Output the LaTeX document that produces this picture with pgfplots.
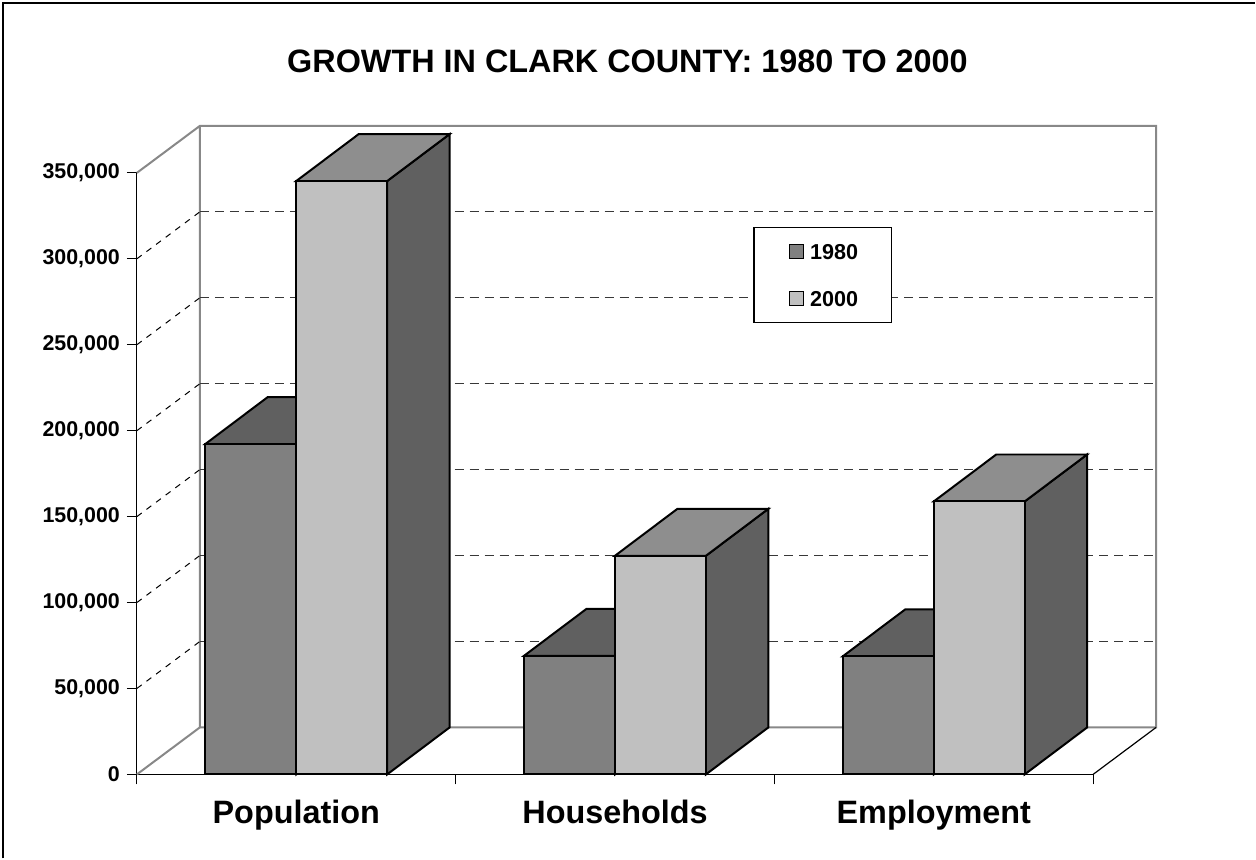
\documentclass[border=0pt]{standalone}
\usepackage{pgfplots}
\pgfplotsset{compat=1.18}
\usepackage{fontspec}
\setmainfont{Liberation Sans}
\definecolor{fA}{HTML}{808080}
\definecolor{tA}{HTML}{606060}
\definecolor{sA}{HTML}{505050}
\definecolor{fB}{HTML}{C0C0C0}
\definecolor{tB}{HTML}{8E8E8E}
\definecolor{sB}{HTML}{606060}
\definecolor{wall}{HTML}{888888}
\definecolor{gridc}{HTML}{383838}
\pgfplotsset{boxface/.style={forget plot, draw=black, line width=1pt, line join=miter}}
% one 3D column: #1 left x, #2 right x, #3 value, #4 front, #5 top, #6 side colour
\newcommand{\drawbox}[6]{%
  \pgfmathsetmacro{\xa}{#1+62.5}%
  \pgfmathsetmacro{\xb}{#2+62.5}%
  \edef\vt{\the\numexpr#3+27326\relax}%
  \addplot[boxface, fill=#6] coordinates {(#2,0) (\xb,27326) (\xb,\vt) (#2,#3)} -- cycle;
  \addplot[boxface, fill=#5] coordinates {(#1,#3) (#2,#3) (\xb,\vt) (\xa,\vt)} -- cycle;
  \addplot[boxface, fill=#4] coordinates {(#1,0) (#2,0) (#2,#3) (#1,#3)} -- cycle;
}
\begin{document}
\begin{tikzpicture}
\begin{axis}[
  scale only axis, width=478.5pt, height=301pt,
  xmin=137, xmax=1094, ymin=0, ymax=350000,
  clip=false,
  axis x line*=bottom, axis y line*=left,
  axis line style={black, line width=0.6pt},
  xtick={137,456,775,1094}, xticklabels={},
  ytick={0,50000,100000,150000,200000,250000,300000,350000},
  yticklabels={0,{50,000},{100,000},{150,000},{200,000},{250,000},{300,000},{350,000}},
  scaled y ticks=false,
  tick align=outside, major tick length=5pt,
  tick style={black, line width=0.6pt},
  yticklabel style={font=\bfseries\fontsize{10.7}{12}\selectfont},
  legend cell align=left,
  legend image code/.code={\path (0pt,0pt) (11pt,0pt); \draw[#1, draw=black, line width=0.5pt] (2.5pt,-3.5pt) rectangle (9.5pt,3.5pt);},
  legend style={at={(axis cs:754,318605)}, anchor=north west, draw=black, line width=0.6pt, fill=white,
    inner xsep=15pt, inner ysep=8.1pt, row sep=15.7pt,
    font=\bfseries\fontsize{10.8}{12}\selectfont,
    nodes={inner xsep=1.5pt, inner ysep=0pt, text height=7.8pt, text depth=0pt}},
]
% bounding box and outer frame
\path (axis cs:0,450581) rectangle (axis cs:1256,-48837);
\draw[black, line width=1pt] (axis cs:3,-48837) -- (axis cs:3,448837) -- (axis cs:1256,448837);

\addlegendimage{fill=fA}\addlegendentry{1980}
\addlegendimage{fill=fB}\addlegendentry{2000}

% walls and floor
\addplot[forget plot, wall, line width=1pt] coordinates {(137,350000) (200,377326) (1157,377326) (1157,27326) (200,27326) (200,377326)};
\addplot[forget plot, wall, line width=1pt] coordinates {(137,0) (200,27326)};
\addplot[forget plot, black, line width=0.6pt] coordinates {(1094,0) (1157,27326)};
% back-wall grid lines
\addplot[forget plot, gridc, line width=0.65pt, dash pattern=on 4.5pt off 3pt] coordinates {(200,77326) (1157,77326)};
\addplot[forget plot, gridc, line width=0.65pt, dash pattern=on 4.5pt off 3pt] coordinates {(200,127326) (1157,127326)};
\addplot[forget plot, gridc, line width=0.65pt, dash pattern=on 4.5pt off 3pt] coordinates {(200,177326) (1157,177326)};
\addplot[forget plot, gridc, line width=0.65pt, dash pattern=on 4.5pt off 3pt] coordinates {(200,227326) (1157,227326)};
\addplot[forget plot, gridc, line width=0.65pt, dash pattern=on 4.5pt off 3pt] coordinates {(200,277326) (1157,277326)};
\addplot[forget plot, gridc, line width=0.65pt, dash pattern=on 4.5pt off 3pt] coordinates {(200,327326) (1157,327326)};
% side-wall grid lines
\addplot[forget plot, black, line width=0.5pt, dash pattern=on 3pt off 3pt] coordinates {(137,50000) (200,77326)};
\addplot[forget plot, black, line width=0.5pt, dash pattern=on 3pt off 3pt] coordinates {(137,100000) (200,127326)};
\addplot[forget plot, black, line width=0.5pt, dash pattern=on 3pt off 3pt] coordinates {(137,150000) (200,177326)};
\addplot[forget plot, black, line width=0.5pt, dash pattern=on 3pt off 3pt] coordinates {(137,200000) (200,227326)};
\addplot[forget plot, black, line width=0.5pt, dash pattern=on 3pt off 3pt] coordinates {(137,250000) (200,277326)};
\addplot[forget plot, black, line width=0.5pt, dash pattern=on 3pt off 3pt] coordinates {(137,300000) (200,327326)};

% columns: Population, Households, Employment (1980, 2000)
\drawbox{205.5}{296.5}{192227}{fA}{tA}{sA}
\drawbox{296.5}{387.5}{345238}{fB}{tB}{sB}
\drawbox{524.5}{615.5}{69000}{fA}{tA}{sA}
\drawbox{615.5}{706.5}{127208}{fB}{tB}{sB}
\drawbox{843.5}{934.5}{68700}{fA}{tA}{sA}
\drawbox{934.5}{1025.5}{158800}{fB}{tB}{sB}

% title and category labels
\node[anchor=base, font=\bfseries\fontsize{16.2}{18}\selectfont] at (axis cs:628,408500) {GROWTH IN CLARK COUNTY: 1980 TO 2000};
\node[anchor=base, font=\bfseries\fontsize{16.2}{18}\selectfont] at (axis cs:296.5,-28488) {Population};
\node[anchor=base, font=\bfseries\fontsize{16.2}{18}\selectfont] at (axis cs:615.5,-28488) {Households};
\node[anchor=base, font=\bfseries\fontsize{16.2}{18}\selectfont] at (axis cs:934.5,-28488) {Employment};
\end{axis}
\end{tikzpicture}
\end{document}
